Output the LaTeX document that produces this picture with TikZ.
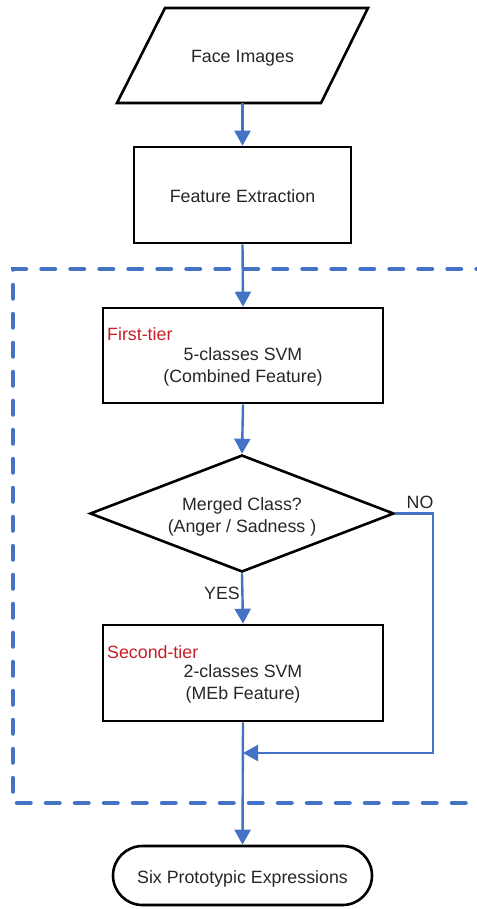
\documentclass[tikz,border=0pt]{standalone}
\usepackage{fontspec}
\setmainfont{Liberation Sans}
\usetikzlibrary{arrows.meta,shapes.geometric,calc}
\definecolor{flowblue}{RGB}{68,114,196}
\definecolor{tierred}{RGB}{200,30,40}
\tikzset{
  box/.style={draw=black,line width=2.6pt,rectangle,inner sep=0pt},
  txt/.style={font=\fontsize{17.8}{22}\selectfont,align=center,inner sep=0pt,text=black!85},
  tiertag/.style={font=\fontsize{17.8}{22}\selectfont,text=tierred,inner sep=0pt,anchor=west},
  flow/.style={draw=flowblue,line width=2.4pt,-{Triangle[length=15pt,width=16pt]}},
  groupframe/.style={draw=flowblue,line width=4.5pt,line cap=round,dash pattern=on 13.5pt off 15.5pt}
}
\begin{document}
\begin{tikzpicture}[x=1pt,y=-1pt]
\useasboundingbox (0,0) rectangle (476,909);

% input: face images (parallelogram)
\draw[black,line width=2.6pt,line join=miter] (165,8) -- (368,8) -- (321,103) -- (117,103) -- cycle;
\node[minimum height=95pt,minimum width=200pt,inner sep=0pt] (face) at (242.5,55.5) {};
\node[txt] (facetxt) at (242.5,58.5) {Face Images};

% feature extraction
\node[box,minimum width=217pt,minimum height=96pt] (feat) at (242.5,195) {};
\node[txt] (feattxt) at (242.5,196) {Feature Extraction};

% grouping frame
\draw[groupframe] (490,269) -- (13,269) -- (13,803) -- (490,803);

% first tier
\node[box,minimum width=280pt,minimum height=95pt] (tierA) at (243,355.5) {};
\node[tiertag] (tagA) at (107,334) {First-tier};
\node[txt] (svmA) at (243,366.5) {5-classes SVM\\(Combined Feature)};

% decision
\node[draw=black,line width=2.6pt,diamond,aspect=2.6,minimum width=304pt,minimum height=117pt,inner sep=0pt] (dec) at (242,513.5) {};
\node[txt] (decq) at (242,516.5) {Merged Class?\\(Anger / Sadness )};

% second tier
\node[box,minimum width=280pt,minimum height=96pt] (tierB) at (243,673) {};
\node[tiertag] (tagB) at (107,652) {Second-tier};
\node[txt] (svmB) at (243,684) {2-classes SVM\\(MEb Feature)};

% output terminal
\node[draw=black,line width=2.6pt,rectangle,rounded corners=29.5pt,minimum width=259pt,minimum height=59pt,inner sep=0pt] (out) at (242.5,875.5) {};
\node[txt] (outtxt) at (242.5,879) {Six Prototypic Expressions};

% connectors
\draw[flow] (face.south) -- (feat.north);
\draw[flow] (feat.south) -- (tierA.north);
\draw[flow] (tierA.south) -- (dec.north);
\draw[flow] (dec.south) -- (tierB.north);
\draw[flow] (tierB.south) -- (out.north);
\coordinate (noturn) at (433,513.5);
\coordinate (join) at (tierB.south |- 0,753);
\draw[flow] (dec.east) -- (noturn) -- (noturn |- join) -- (join);

% branch labels
\node[txt] (yes) at (222,593) {YES};
\node[txt] (no) at (420,502) {NO};
\end{tikzpicture}
\end{document}
